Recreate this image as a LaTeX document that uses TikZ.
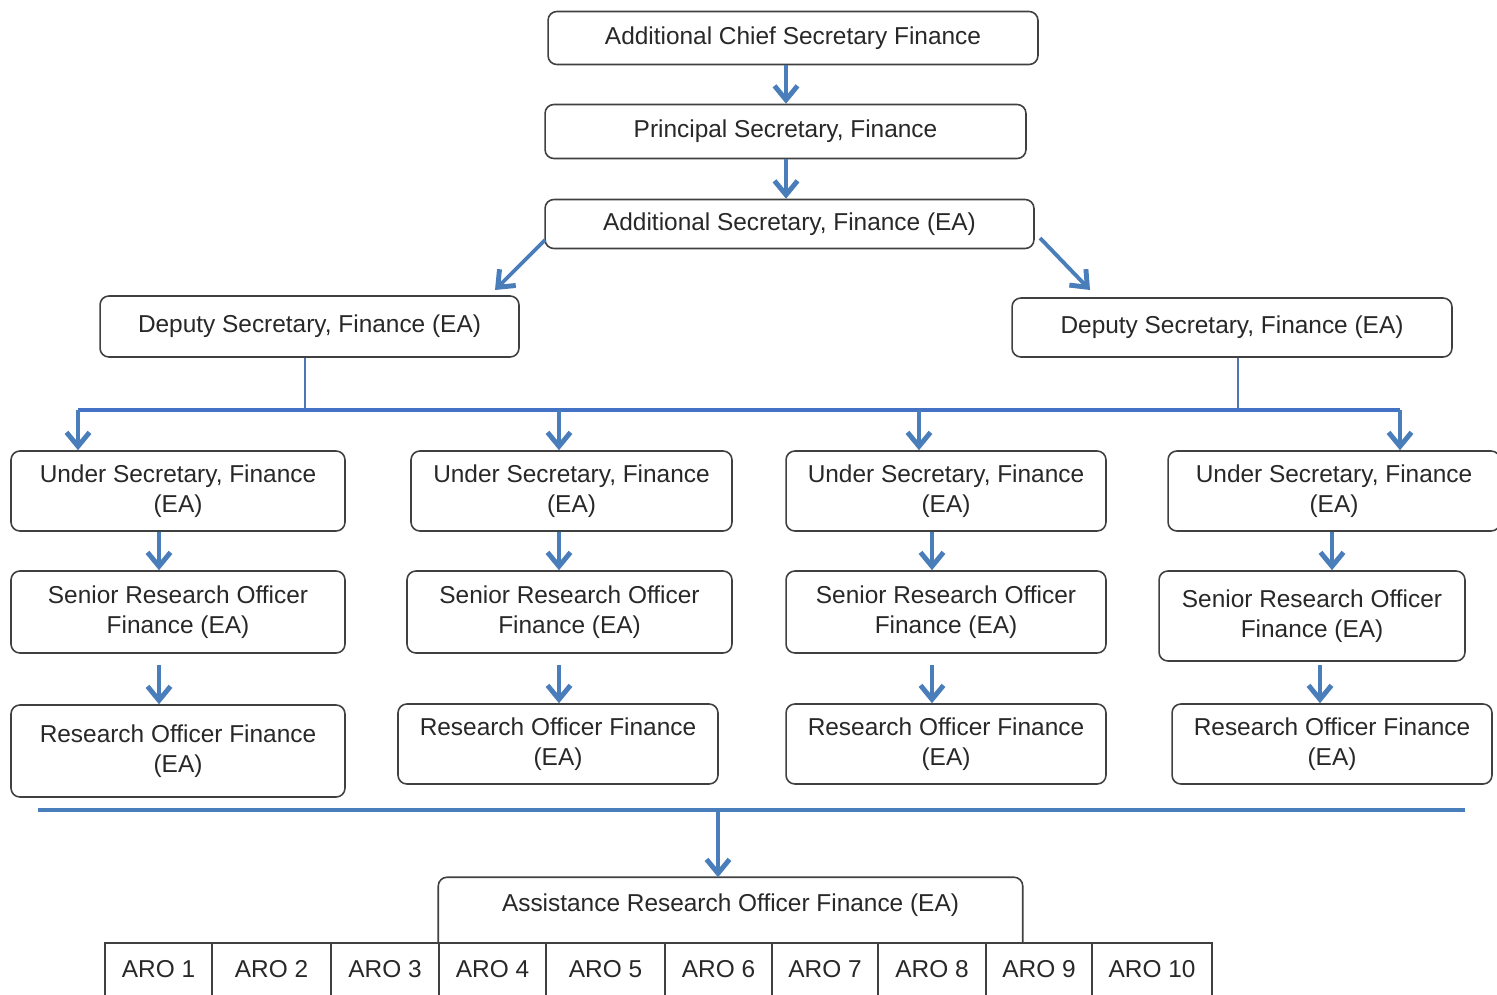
\documentclass[tikz,border=0pt]{standalone}
\usepackage{fontspec}
\setmainfont{Liberation Sans}
\usepackage{tikz}
\usetikzlibrary{arrows.meta}
\definecolor{arrowblue}{RGB}{74,126,187}
\definecolor{lineblue}{RGB}{68,114,196}
\definecolor{boxgray}{RGB}{64,64,64}
\definecolor{textgray}{RGB}{40,40,40}
\tikzstyle{box}=[draw=boxgray, line width=0.9pt, rounded corners=5pt, fill=white, align=center, text=textgray, font=\fontsize{13.9pt}{17pt}\selectfont, inner sep=0pt]
\tikzstyle{arrow}=[draw=arrowblue, line width=2.2pt, -{Straight Barb[length=2.8mm, width=4.6mm, line width=2.8pt]}]
\tikzstyle{bus}=[draw=lineblue, line width=1.8pt]
\tikzstyle{stem}=[draw=lineblue!80!gray, line width=0.8pt]

\begin{document}
\begin{tikzpicture}[x=0.02cm, y=-0.02cm]
		   \useasboundingbox (0,0) rectangle (1497,994);
		   % top of the chain
		   \node (acs) at (793, 38)[box, minimum width=9.8cm, minimum height=1.06cm] {Additional Chief Secretary Finance};
		   \node (ps) at (785.5, 131.5)[box, minimum width=9.62cm, minimum height=1.08cm] {Principal Secretary, Finance};
		   \node (as) at (789.5, 224)[box, minimum width=9.78cm, minimum height=0.98cm] {Additional Secretary, Finance (EA)};
		   \node (dsl) at (309.5, 326.5)[box, minimum width=8.38cm, minimum height=1.22cm] {Deputy Secretary, Finance (EA)};
		   \node (dsr) at (1232, 327.5)[box, minimum width=8.8cm, minimum height=1.18cm] {Deputy Secretary, Finance (EA)};
		   % four columns
		   \node (us1) at (178, 491)[box, minimum width=6.68cm, minimum height=1.6cm] {Under Secretary, Finance\\(EA)};
		   \node (sro1) at (178, 612)[box, minimum width=6.68cm, minimum height=1.64cm] {Senior Research Officer\\Finance (EA)};
		   \node (ro1) at (178, 751)[box, minimum width=6.68cm, minimum height=1.84cm] {Research Officer Finance\\(EA)};
		   \node (us2) at (571.5, 491)[box, minimum width=6.42cm, minimum height=1.6cm] {Under Secretary, Finance\\(EA)};
		   \node (sro2) at (569.5, 612)[box, minimum width=6.5cm, minimum height=1.64cm] {Senior Research Officer\\Finance (EA)};
		   \node (ro2) at (558, 744)[box, minimum width=6.4cm, minimum height=1.6cm] {Research Officer Finance\\(EA)};
		   \node (us3) at (946, 491)[box, minimum width=6.4cm, minimum height=1.6cm] {Under Secretary, Finance\\(EA)};
		   \node (sro3) at (946, 612)[box, minimum width=6.4cm, minimum height=1.64cm] {Senior Research Officer\\Finance (EA)};
		   \node (ro3) at (946, 744)[box, minimum width=6.4cm, minimum height=1.6cm] {Research Officer Finance\\(EA)};
		   \node (us4) at (1334, 491)[box, minimum width=6.64cm, minimum height=1.6cm] {Under Secretary, Finance\\(EA)};
		   \node (sro4) at (1312, 616)[box, minimum width=6.12cm, minimum height=1.8cm] {Senior Research Officer\\Finance (EA)};
		   \node (ro4) at (1332, 744)[box, minimum width=6.4cm, minimum height=1.6cm] {Research Officer Finance\\(EA)};
		   % assistants
		   \node (aro) at (730.5, 910.5)[box, draw=none, minimum width=11.66cm, minimum height=1.3cm, anchor=center] {};
		   \node (arotext) at (730.5, 905)[box, draw=none, fill=none] {Assistance Research Officer Finance (EA)};
		   \draw[boxgray, line width=0.9pt, rounded corners=5pt] (aro.south west) -- (aro.north west) -- (aro.north east) -- (aro.south east);
		   \foreach \l/\r/\n in {105/212/1, 212/331/2, 331/439/3, 439/546/4, 546/665/5, 665/772/6, 772/878/7, 878/986/8, 986/1092/9, 1092/1212/10} {
		       \draw[boxgray, line width=0.9pt] (\l,943) rectangle (\r,1010);
		       \node (aro\n) at ({(\l+\r)/2}, 969)[text=textgray, font=\fontsize{13.9pt}{17pt}\selectfont] {ARO \n};
		   }
		   % connectors
		   \coordinate (busl) at (78, 410);
		   \coordinate (busr) at (1400, 410);
		   \coordinate (jl) at (305, 410);
		   \coordinate (jr) at (1238, 410);
		   \coordinate (lowl) at (38, 810);
		   \coordinate (lowr) at (1465, 810);
		   \coordinate (lowj) at (718, 810);
		   \draw[arrow] (acs.south -| 786,0) -- (ps.north -| 786,0);
		   \draw[arrow] (ps.south -| 786,0) -- (as.north -| 786,0);
		   \draw[arrow] (545, 240) -- (495, 290);
		   \draw[arrow] (1040, 238) -- (1090, 290);
		   \draw[stem] (dsl.south -| jl) -- (jl);
		   \draw[stem] (dsr.south -| jr) -- (jr);
		   \draw[bus] (busl) -- (busr);
		   \draw[arrow] (busl) -- (us1.north -| busl);
		   \draw[arrow] (559, 410) -- (us2.north -| 559,0);
		   \draw[arrow] (919, 410) -- (us3.north -| 919,0);
		   \draw[arrow] (busr) -- (us4.north -| busr);
		   \draw[arrow] (us1.south -| 159,0) -- (sro1.north -| 159,0);
		   \draw[arrow] (us2.south -| 559,0) -- (sro2.north -| 559,0);
		   \draw[arrow] (us3.south -| 932,0) -- (sro3.north -| 932,0);
		   \draw[arrow] (us4.south -| 1332,0) -- (sro4.north -| 1332,0);
		   \draw[arrow] (159, 665) -- (ro1.north -| 159,0);
		   \draw[arrow] (559, 665) -- (ro2.north -| 559,0);
		   \draw[arrow] (932, 665) -- (ro3.north -| 932,0);
		   \draw[arrow] (1320, 665) -- (ro4.north -| 1320,0);
		   \draw[draw=arrowblue, line width=2.4pt] (lowl) -- (lowr);
		   \draw[arrow] (lowj) -- (aro.north -| lowj);
\end{tikzpicture}
\end{document}
